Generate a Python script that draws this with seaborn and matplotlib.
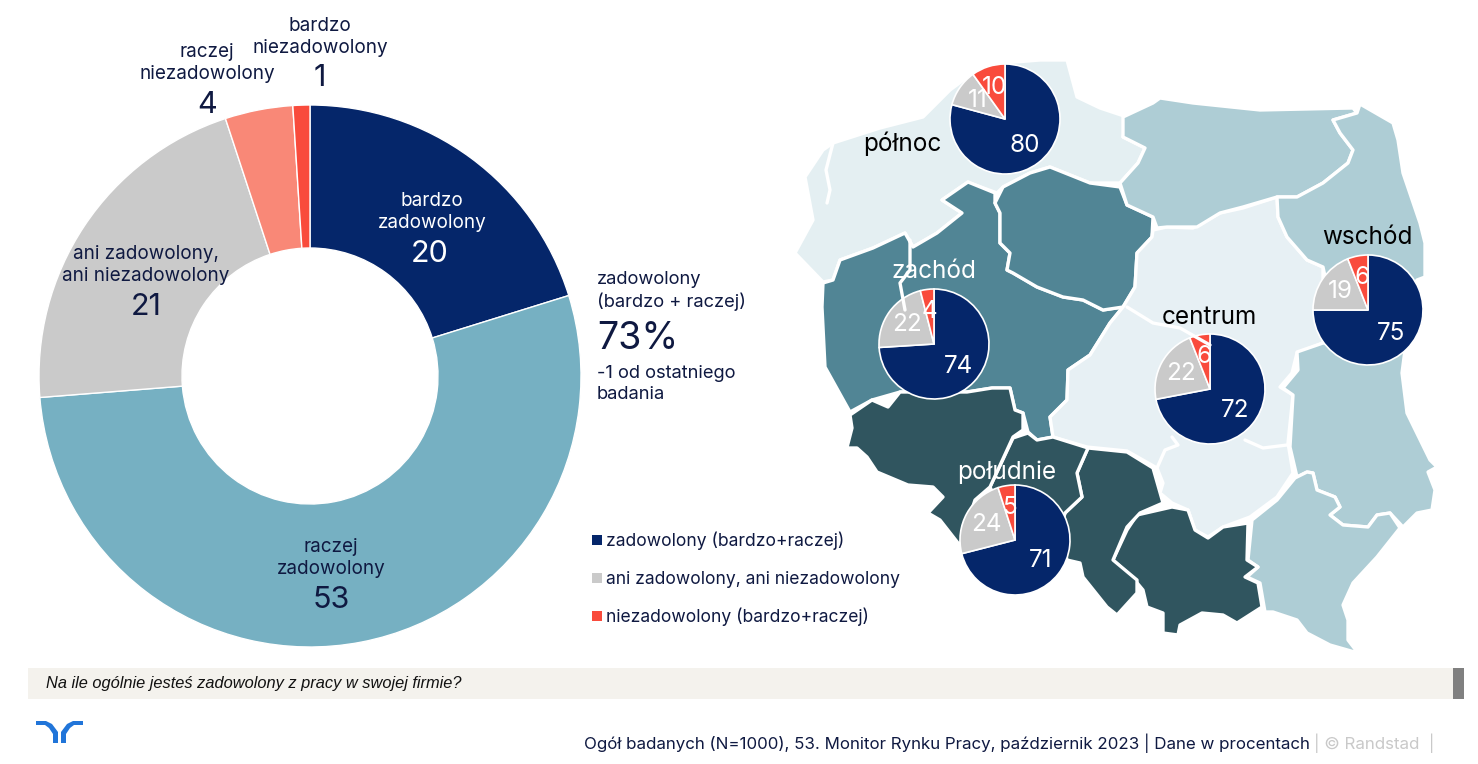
import matplotlib
matplotlib.use("Agg")
import matplotlib.pyplot as plt
from matplotlib.patches import Polygon, Rectangle
import pandas as pd
import seaborn as sns

W, H = 1478, 764

# donut, all respondents
donut_values = [20, 53, 21, 4, 1]
donut_colors = ["#05266A", "#76B0C2", "#CACACA", "#F98877", "#F94B3C"]

# small pies per region: satisfied, neutral, dissatisfied
region_names = ["północ", "zachód", "centrum", "wschód", "południe"]
region_satisfied = [80, 74, 72, 75, 71]
region_neutral = [11, 22, 22, 19, 24]
region_dissatisfied = [10, 4, 6, 6, 5]
pie_colors = ["#05266A", "#CACACA", "#F94B3C"]
pie_centers = [(1005, 119), (934, 344), (1210, 389), (1368, 310), (1015, 540)]

legend_labels = ["zadowolony (bardzo+raczej)", "ani zadowolony, ani niezadowolony", "niezadowolony (bardzo+raczej)"]

# map outlines, traced in image pixels (y down)
north_shape = [(795, 253), (813, 220), (805, 177), (823, 150), (833, 143), (880, 128), (923, 117), (950, 90), (973, 73),
               (1003, 63), (1040, 60), (1067, 60), (1077, 97), (1100, 108), (1127, 117), (1123, 137), (1145, 148),
               (1138, 163), (1120, 183), (1090, 183), (1050, 167), (1030, 173), (1003, 187), (997, 193), (970, 183),
               (968, 182), (942, 200), (962, 213), (937, 233), (913, 247), (905, 233), (873, 248), (840, 260),
               (833, 280), (823, 282)]
west_shape = [(823, 283), (833, 280), (840, 260), (873, 248), (905, 233), (913, 247), (937, 233), (962, 213), (942, 200),
              (968, 182), (995, 193), (995, 203), (1000, 213), (1000, 243), (1010, 253), (1007, 270), (1013, 273),
              (1037, 287), (1063, 297), (1083, 300), (1103, 310), (1123, 307), (1110, 323), (1090, 355), (1068, 370),
              (1067, 400), (1050, 417), (1053, 437), (1037, 440), (1028, 432), (1023, 413), (1015, 410), (1010, 388),
              (992, 388), (967, 392), (900, 392), (872, 400), (850, 412), (825, 367), (822, 307)]
kuj_shape = [(1003, 187), (1030, 173), (1050, 167), (1090, 183), (1120, 187), (1127, 205), (1153, 217), (1152, 237),
             (1137, 253), (1135, 287), (1123, 307), (1103, 310), (1083, 300), (1063, 297), (1037, 287), (1013, 273),
             (1007, 270), (1010, 253), (1000, 243), (1000, 213), (995, 203)]
center_shape = [(1153, 230), (1167, 227), (1193, 228), (1220, 213), (1243, 208), (1277, 197), (1278, 217), (1287, 237),
                (1307, 260), (1323, 267), (1323, 343), (1297, 353), (1292, 373), (1280, 387), (1293, 395), (1288, 443),
                (1293, 473), (1277, 497), (1250, 517), (1223, 527), (1208, 537), (1195, 530), (1188, 510), (1172, 503),
                (1160, 493), (1163, 483), (1157, 468), (1127, 451), (1087, 447), (1053, 437), (1050, 417), (1067, 400),
                (1068, 370), (1090, 355), (1110, 323), (1123, 307), (1135, 287), (1137, 253), (1152, 237)]
warmia_shape = [(1123, 117), (1153, 103), (1160, 98), (1193, 103), (1260, 110), (1353, 108), (1357, 113), (1333, 120),
                (1340, 133), (1353, 150), (1348, 163), (1323, 183), (1297, 197), (1277, 197), (1243, 207), (1220, 213),
                (1197, 227), (1167, 227), (1157, 228), (1153, 217), (1127, 205), (1120, 183), (1138, 163), (1145, 148),
                (1123, 137)]
podlasie_shape = [(1360, 104), (1393, 123), (1398, 140), (1403, 173), (1420, 223), (1425, 243), (1425, 277), (1417, 280),
                  (1400, 310), (1368, 310), (1330, 300), (1323, 267), (1307, 260), (1287, 237), (1278, 217), (1277, 197),
                  (1297, 197), (1323, 183), (1348, 163), (1353, 150), (1340, 133), (1333, 120), (1357, 113)]
lublin_shape = [(1297, 352), (1323, 343), (1405, 350), (1402, 373), (1407, 413), (1430, 460), (1437, 467), (1428, 472),
                (1435, 490), (1432, 510), (1417, 513), (1403, 527), (1390, 513), (1377, 515), (1368, 527), (1343, 525),
                (1330, 515), (1340, 507), (1335, 497), (1317, 490), (1313, 473), (1307, 472), (1297, 477), (1290, 447),
                (1293, 395), (1283, 388), (1298, 370)]
carpat_shape = [(1295, 478), (1307, 472), (1313, 473), (1317, 490), (1335, 497), (1340, 507), (1330, 515), (1343, 525),
                (1368, 527), (1377, 515), (1390, 513), (1400, 528), (1377, 557), (1353, 583), (1343, 605), (1348, 620),
                (1348, 640), (1358, 653), (1330, 645), (1307, 633), (1297, 620), (1273, 612), (1265, 612), (1260, 583),
                (1247, 577), (1258, 567), (1248, 560), (1252, 520), (1277, 500)]
malopolska_shape = [(1248, 523), (1247, 560), (1258, 567), (1245, 577), (1258, 583), (1262, 607), (1237, 623), (1223, 615),
                    (1202, 613), (1180, 625), (1178, 635), (1163, 633), (1163, 613), (1147, 607), (1143, 590), (1133, 578),
                    (1113, 560), (1127, 530), (1137, 515), (1172, 507), (1188, 510), (1195, 530), (1208, 538), (1223, 527)]
silesia_shape = [(1088, 448), (1127, 452), (1153, 468), (1157, 482), (1163, 503), (1140, 513), (1127, 527), (1113, 560),
                 (1137, 580), (1137, 593), (1117, 615), (1107, 607), (1083, 577), (1080, 563), (1067, 560), (1060, 530),
                 (1065, 513), (1082, 497), (1077, 473)]
opole_shape = [(1013, 438), (1028, 433), (1037, 440), (1053, 437), (1088, 448), (1077, 473), (1082, 497), (1065, 513),
               (1060, 530), (1015, 540), (990, 487)]
lower_silesia_shape = [(850, 415), (872, 400), (888, 407), (900, 392), (967, 392), (992, 388), (1010, 388), (1015, 410),
                       (1023, 413), (1023, 430), (1013, 437), (990, 487), (975, 500), (960, 545), (958, 543), (940, 520),
                       (928, 513), (943, 497), (933, 487), (908, 485), (877, 472), (867, 457), (857, 448), (848, 448),
                       (843, 463), (852, 428)]
lagoon_line = [(833, 143), (826, 170), (830, 190), (827, 203)]
lubusz_line = [(910, 240), (910, 270), (900, 283), (905, 310)]
lodz_line = [(1127, 307), (1153, 323), (1180, 328), (1210, 345)]
kielce_line_a = [(1172, 437), (1178, 445), (1165, 450), (1157, 468)]
kielce_line_b = [(1245, 440), (1263, 448), (1287, 445)]

map_light = "#E4EFF2"
map_pale = "#E7F0F4"
map_blue = "#AECDD5"
map_teal = "#518595"
map_dark = "#30555F"
ink = "#0F1941"

sns.set_theme(style="white")
plt.rcParams["font.family"] = ["Inter", "DejaVu Sans"]

fig = plt.figure(figsize=(W / 100, H / 100), dpi=100)
ax = fig.add_axes([0, 0, 1, 1])


def fy(shape):
    return [(x, H - y) for x, y in shape]


def label(x, y, s, size=13.6, color=ink, **kw):
    ax.text(x, H - y, s, fontsize=size, color=color, ha=kw.pop("ha", "center"), va="center", **kw)


for shape, color in [(north_shape, map_light), (west_shape, map_teal), (kuj_shape, map_teal), (center_shape, map_pale),
                     (warmia_shape, map_blue), (podlasie_shape, map_blue), (lublin_shape, map_blue), (carpat_shape, map_blue),
                     (malopolska_shape, map_dark), (silesia_shape, map_dark), (opole_shape, map_dark),
                     (lower_silesia_shape, map_dark)]:
    ax.add_patch(Polygon(fy(shape), closed=True, facecolor=color, edgecolor="white", linewidth=2.4, joinstyle="round"))

for line in [lagoon_line, lubusz_line, lodz_line, kielce_line_a, kielce_line_b]:
    xs, ys = zip(*fy(line))
    ax.plot(xs, ys, color="white", linewidth=2.4)

ax.pie(donut_values, colors=donut_colors, center=(310, H - 376), radius=271, startangle=90, counterclock=False,
       wedgeprops=dict(width=143, edgecolor="white", linewidth=1.0))

for i, name in enumerate(region_names):
    vals = [region_satisfied[i], region_neutral[i], region_dissatisfied[i]]
    cx, cy = pie_centers[i]
    _, _, autos = ax.pie(vals, colors=pie_colors, center=(cx, H - cy), radius=55, startangle=90, counterclock=False,
                         autopct="%d", pctdistance=0.6, wedgeprops=dict(edgecolor="white", linewidth=1.2),
                         textprops=dict(color="white", fontsize=17.5))
    for t, v in zip(autos, vals):
        t.set_text(str(v))

# donut labels
label(432, 212, "bardzo\nzadowolony", color="white", linespacing=1.3)
label(430, 254, str(donut_values[0]), size=22, color="white")
label(331, 558, "raczej\nzadowolony", linespacing=1.3)
label(331, 600, str(donut_values[1]), size=22)
label(146, 265, "ani zadowolony,\nani niezadowolony", linespacing=1.3)
label(146, 307, str(donut_values[2]), size=22)
label(207, 63, "raczej\nniezadowolony", linespacing=1.3)
label(207, 105, str(donut_values[3]), size=22)
label(320, 37, "bardzo\nniezadowolony", linespacing=1.3)
label(320, 78, str(donut_values[4]), size=22)

# side note
label(597, 291, "zadowolony\n(bardzo + raczej)", size=13.2, ha="left", linespacing=1.3)
label(597, 339, "73%", size=27, ha="left")
label(597, 384, "-1 od ostatniego\nbadania", size=13.2, ha="left", linespacing=1.35)

# region names
label(902, 144, region_names[0], size=17.5, color="black")
label(934, 271, region_names[1], size=17.5, color="white")
label(1209, 317, region_names[2], size=17.5, color="black")
label(1367, 237, region_names[3], size=17.5, color="black")
label(1007, 472, region_names[4], size=17.5, color="white")

# legend squares
legend_df = pd.DataFrame({"x": [597, 597, 597], "y": [H - 540, H - 578, H - 616], "label": legend_labels})
sns.scatterplot(data=legend_df, x="x", y="y", hue="label", palette=dict(zip(legend_labels, pie_colors)),
                marker="s", s=58, linewidth=0, legend=False, ax=ax)
for txt, y in zip(legend_labels, [541, 579, 617]):
    label(606, y, txt, size=12.6, ha="left")

# question bar and footer
ax.add_patch(Rectangle((28, H - 699), 1425, 31, facecolor="#F4F2ED", edgecolor="none"))
ax.add_patch(Rectangle((1453, H - 699), 11, 31, facecolor="#808080", edgecolor="none"))
label(46, 683.5, "Na ile ogólnie jesteś zadowolony z pracy w swojej firmie?", size=11.8, color="#111111", ha="left",
      family=["Liberation Sans"], style="italic")
label(1310, 743, "Ogół badanych (N=1000), 53. Monitor Rynku Pracy, październik 2023 | Dane w procentach", size=12.2, ha="right")
label(1314, 743, "| © Randstad  |", size=12.2, color="#C9C9C9", ha="left")

# logo
logo_left = [(36, 721), (46, 721), (52, 724), (58, 732), (58, 743), (53, 743), (53, 734), (49, 728), (45, 725), (36, 725)]
logo_right = [(83, 721), (73, 721), (67, 724), (61, 732), (61, 743), (66, 743), (66, 734), (70, 728), (74, 725), (83, 725)]
for shape in [logo_left, logo_right]:
    ax.add_patch(Polygon(fy(shape), closed=True, facecolor="#2175D9", edgecolor="none"))

ax.set_xlim(0, W)
ax.set_ylim(0, H)
ax.set_aspect("equal")
ax.set_axis_off()

fig.savefig("out.png", dpi=100, facecolor="white")
